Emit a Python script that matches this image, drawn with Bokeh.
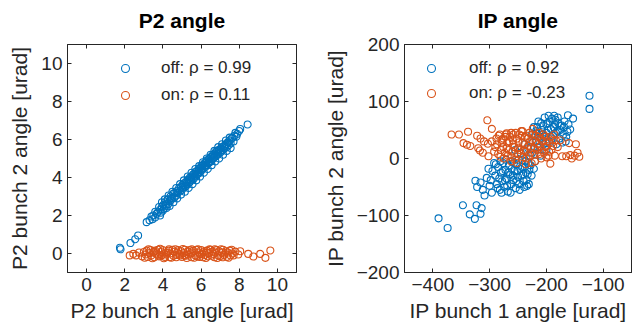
from bokeh.plotting import figure
from bokeh.layouts import row
from bokeh.models import Range1d, LinearAxis, FixedTicker, Legend
from bokeh.embed import file_html
from bokeh.resources import INLINE

# ---------------- data ----------------
p2_off_x = [1.75, 1.78, 2.3, 2.55, 2.7, 3.15, 3.3, 3.45, 3.5, 3.6, 3.68, 3.75, 3.85, 3.9, 3.95,
            4.02, 4.05, 4.12, 4.18, 4.25, 4.28, 4.35, 4.4, 4.42, 4.5, 4.55, 4.6, 4.65, 4.7, 4.75,
            4.8, 4.85, 4.9, 4.95, 5.0, 5.02, 5.08, 5.12, 5.15, 5.2, 5.22, 5.28, 5.3, 5.35, 5.4,
            5.42, 5.48, 5.5, 5.55, 5.58, 5.62, 5.65, 5.7, 5.72, 5.78, 5.8, 5.85, 5.88, 5.92, 5.95,
            6.0, 6.02, 6.08, 6.1, 6.15, 6.18, 6.22, 6.25, 6.3, 6.32, 6.38, 6.4, 6.45, 6.48, 6.52,
            6.55, 6.6, 6.62, 6.68, 6.7, 6.75, 6.78, 6.82, 6.85, 6.9, 6.92, 6.98, 7.0, 7.05, 7.1,
            7.15, 7.2, 7.25, 7.3, 7.35, 7.4, 7.45, 7.5, 7.55, 7.6, 7.65, 7.7, 7.75, 7.8, 7.85,
            7.9, 8.0, 8.05, 8.44,
            4.1, 4.2, 4.3, 4.35, 4.5, 4.55, 4.7, 4.75, 4.9, 4.95, 5.1, 5.15, 5.3, 5.35, 5.5,
            5.55, 5.7, 5.75, 5.9, 5.95, 6.1, 6.15, 6.3, 6.35, 6.5, 6.55, 6.7, 6.75, 6.9, 6.95,
            7.1, 7.15, 7.3, 7.35, 3.95, 4.0, 3.8, 3.85, 3.6, 3.4, 7.5, 7.55,
            4.15, 4.45, 4.75, 5.05, 5.25, 5.45, 5.65, 5.85, 6.05, 6.25, 6.45, 6.65, 6.85, 7.05,
            7.25, 7.45]
p2_off_y = [0.3, 0.22, 0.55, 0.75, 0.95, 1.65, 1.75, 1.8, 2.0, 1.9, 2.1, 2.2, 2.3, 2.15, 2.45,
            2.55, 2.35, 2.7, 2.5, 2.85, 2.6, 2.75, 3.0, 2.8, 2.9, 3.15, 2.95, 3.2, 3.05, 3.3,
            3.2, 3.45, 3.3, 3.5, 3.35, 3.6, 3.45, 3.7, 3.5, 3.75, 3.55, 3.85, 3.65, 3.9, 3.75,
            4.0, 3.85, 4.05, 3.9, 4.15, 3.95, 4.2, 4.05, 4.3, 4.15, 4.35, 4.2, 4.45, 4.25, 4.5,
            4.35, 4.6, 4.45, 4.65, 4.5, 4.75, 4.55, 4.8, 4.65, 4.9, 4.75, 4.95, 4.8, 5.05, 4.85,
            5.1, 4.95, 5.2, 5.05, 5.25, 5.1, 5.35, 5.15, 5.4, 5.25, 5.45, 5.3, 5.5, 5.35, 5.6,
            5.45, 5.65, 5.55, 5.75, 5.6, 5.85, 5.7, 5.95, 5.8, 6.05, 6.1, 5.9, 6.2, 6.35, 6.15,
            6.3, 6.45, 6.55, 6.79,
            2.85, 2.4, 3.05, 2.5, 3.25, 2.7, 3.45, 2.9, 3.65, 3.1, 3.85, 3.25, 4.05, 3.45, 4.25,
            3.65, 4.45, 3.85, 4.6, 4.05, 4.8, 4.25, 5.0, 4.45, 5.2, 4.65, 5.4, 4.85, 5.6, 5.0,
            5.75, 5.2, 5.95, 5.4, 2.7, 2.25, 2.45, 2.0, 2.2, 1.95, 6.1, 5.55,
            2.62, 2.92, 3.2, 3.5, 3.7, 3.88, 4.08, 4.28, 4.47, 4.66, 4.86, 5.05, 5.25, 5.44,
            5.63, 5.83]

p2_on_x = [2.26, 2.45, 2.6, 2.75, 2.9, 3.0, 3.1, 3.15, 3.2, 3.3, 3.35, 3.4, 3.5, 3.55, 3.6,
           3.7, 3.75, 3.8, 3.9, 3.95, 4.0, 4.1, 4.15, 4.2, 4.3, 4.35, 4.4, 4.5, 4.55, 4.6,
           4.7, 4.75, 4.8, 4.9, 4.95, 5.0, 5.1, 5.15, 5.2, 5.3, 5.35, 5.4, 5.5, 5.55, 5.6,
           5.7, 5.75, 5.8, 5.9, 5.95, 6.0, 6.1, 6.15, 6.2, 6.3, 6.35, 6.4, 6.5, 6.55, 6.6,
           6.7, 6.75, 6.8, 6.9, 6.95, 7.0, 7.1, 7.15, 7.2, 7.3, 7.35, 7.4, 7.5, 7.55, 7.65,
           7.8, 7.95, 8.05, 8.47, 8.74, 9.1, 9.37, 9.63,
           3.05, 3.25, 3.45, 3.65, 3.85, 4.05, 4.25, 4.45, 4.65, 4.85, 5.05, 5.25, 5.45, 5.65,
           5.85, 6.05, 6.25, 6.45, 6.65, 6.85, 7.05, 7.25, 7.45, 7.6, 3.52, 3.92, 4.32, 4.72,
           5.12, 5.52, 5.92, 6.32, 6.72, 7.12, 7.7]
p2_on_y = [-0.1, -0.02, -0.1, 0.05, -0.15, 0.08, -0.05, 0.15, -0.18, 0.02, 0.18, -0.1, 0.05, -0.2, 0.15,
           -0.05, 0.2, -0.15, 0.08, -0.08, 0.18, -0.18, 0.05, -0.05, 0.15, -0.2, 0.0, 0.2, -0.12, 0.1,
           -0.2, 0.05, 0.18, -0.1, 0.12, -0.18, 0.02, 0.2, -0.12, 0.1, -0.05, 0.18, -0.2, 0.05, 0.15,
           -0.1, 0.2, -0.15, 0.05, -0.05, 0.18, -0.2, 0.08, -0.08, 0.15, -0.15, 0.02, 0.2, -0.12, 0.1,
           -0.2, 0.05, 0.18, -0.1, 0.12, -0.15, 0.05, 0.2, -0.08, 0.12, -0.18, 0.05, 0.15, -0.1, 0.0,
           0.1, -0.05, 0.12, -0.02, -0.16, -0.02, -0.23, 0.16,
           -0.22, 0.22, -0.25, 0.0, 0.25, -0.25, 0.05, -0.22, 0.22, -0.02, 0.24, -0.24, 0.0, -0.22,
           0.22, -0.02, -0.24, 0.22, -0.02, -0.24, 0.22, 0.0, -0.22, 0.2, 0.1, -0.12, 0.22, -0.08,
           -0.1, 0.22, -0.18, 0.05, 0.22, -0.2, -0.1]

ip_off_x = [-390, -374, -347, -335, -326, -323, -314, -316, -325, -322, -316, -309, -305, -302,
            -312, -300, -296, -298, -124, -124, -153, -162, -158, -175, -168, -180,
            -290, -287, -285, -282, -280, -278, -276, -274, -272, -270, -268, -266, -264, -262,
            -260, -258, -256, -254, -252, -250, -248, -246, -244, -242, -240, -238, -236, -234,
            -232, -230, -225, -220, -215, -210, -205, -200, -218, -212,
            -226, -222, -218, -214, -210, -206, -203, -200, -198, -195, -192, -190, -188, -185,
            -182, -180, -177, -173, -170, -166, -163, -196, -208, -184,
            -245, -238, -232, -228, -255,
            -289, -286, -283, -281, -279, -277, -273, -271, -269, -267, -263, -261, -259, -257,
            -253, -251, -249, -247, -243, -241, -239, -237, -235, -233, -231, -228, -226, -222,
            -295, -292,
            -224, -220, -216, -212, -209, -204, -201, -197, -194, -191, -187, -183, -179, -176,
            -172, -169, -165, -161, -186, -200, -213, -207]
ip_off_y = [-105, -122, -82, -98, -106, -82, -87, -97, -39, -50, -42, -65, -34, -18,
            -55, -48, -60, -38, 110, 87, 70, 76, 51, 57, 65, 72,
            -30, -45, -15, -55, -25, -40, -8, -50, -20, -35, -58, -12, -28, -45,
            -5, -38, -22, -52, -10, -32, -45, -18, -30, -3, -40, -15, -25, -48,
            -8, -20, 10, -5, 20, 5, 25, 15, 30, 38,
            42, 55, 48, 65, 35, 58, 72, 45, 62, 30, 52, 70, 40, 60,
            25, 48, 35, 58, 42, 30, 47, 75, 50, 68,
            10, 25, 18, 5, 15,
            -10, -52, -35, -5, -60, -22, -38, -2, -48, -25, -60, -18, -30, -8,
            -40, -22, -2, -55, -15, -28, -50, -5, -38, -28, -45, -12, -30, -18,
            -22, -8,
            28, 40, 55, 20, 62, 38, 28, 50, 65, 35, 55, 45, 62, 50,
            28, 55, 38, 60, 75, 60, 45, 42]

ip_on_x = [-367, -354, -338, -346, -340, -334, -304, -316, -310, -317, -302, -303, -322, -296,
           -320, -312,
           -290, -288, -285, -282, -280, -278, -275, -272, -270, -268, -265, -262, -260, -258,
           -255, -252, -250, -248, -245, -242, -240, -238, -235, -232, -230, -228, -225, -222,
           -220, -218, -215, -212, -210, -208, -205, -202, -200, -198, -195, -192, -188, -185,
           -183, -186, -270, -244, -226, -262, -234,
           -193, -172, -165, -158, -150, -145, -142, -148, -160, -180, -175, -155,
           -287, -284, -281, -279, -276, -273, -271, -269, -266, -264, -261, -259, -256, -254,
           -251, -249, -247, -243, -241, -239, -236, -233, -231, -229, -227, -224, -221, -219,
           -216, -214, -211, -209, -206, -204, -201, -199, -196, -194, -191, -189, -252, -236,
           -276, -258, -242, -224, -212, -296, -292]
ip_on_y = [42, 42, 47, 27, 24, 22, 67, 35, 30, 14, 4, 26, 40, 52,
           18, 10,
           20, 35, 8, 42, 15, 28, 0, 38, 18, 5, 30, 45, 12, 25,
           -2, 35, 18, 42, 8, 28, 15, 38, 0, 22, 45, 10, 32, 18,
           -5, 40, 25, 8, 35, 15, 42, 20, 2, 30, 12, 38, 22, 5,
           32, 42, 44, 48, -8, -5, 40,
           -9, 4, 4, 6, 5, 10, 3, 25, 27, 20, 32, 0,
           25, 40, 3, 33, 20, 10, 42, 28, 15, 38, 2, 32, 20, 45,
           8, 28, 15, 40, 2, 25, 12, 35, 5, 28, 18, 42, 8, 30,
           15, 38, 22, 0, 30, 10, 38, 22, 5, 28, 15, 32, -8, -10,
           35, 42, 48, 52, 45, 30, 12]

p2_ticks = [0, 2, 4, 6, 8, 10]
ip_x_ticks = [-400, -300, -200, -100]
ip_y_ticks = [-200, -100, 0, 100, 200]

BLUE = "#0072BD"
ORANGE = "#D95319"
AX = "#262626"
FONT = "Liberation Sans"


def style_axis(ax, ticks, labels=True):
    ax.ticker = FixedTicker(ticks=ticks)
    ax.axis_line_color = AX
    ax.axis_line_width = 1
    ax.major_tick_line_color = AX
    ax.major_tick_in = 4
    ax.major_tick_out = 0
    ax.minor_tick_line_color = None
    ax.major_label_text_font = FONT
    ax.major_label_text_color = AX
    ax.axis_label_text_font = FONT
    ax.axis_label_text_color = AX
    ax.axis_label_text_font_style = "normal"
    ax.axis_label_text_font_size = "21px"
    if labels:
        ax.major_label_text_font_size = "19px"
        ax.major_label_standoff = 5
    else:
        ax.major_label_text_font_size = "1px"
        ax.major_label_text_color = None
        ax.major_label_standoff = 0


def make_fig(title, xr, yr, xt, yt, xlabel, ylabel, width, bl, br,
             xo, yo, xn, yn, lab_off, lab_on, leg_loc, leg_space, leg_standoff):
    p = figure(width=width, height=329, output_backend="svg", toolbar_location=None,
               x_range=Range1d(*xr), y_range=Range1d(*yr), title=None,
               min_border_left=bl, min_border_right=br, min_border_top=44,
               min_border_bottom=57)
    p.background_fill_color = "white"
    p.border_fill_color = "white"
    p.outline_line_color = AX
    p.outline_line_width = 1
    p.xgrid.visible = False
    p.ygrid.visible = False

    style_axis(p.xaxis[0], xt)
    style_axis(p.yaxis[0], yt)
    p.xaxis[0].axis_label = xlabel
    p.yaxis[0].axis_label = ylabel
    p.xaxis[0].axis_label_standoff = 5
    p.yaxis[0].axis_label_standoff = 7

    # top axis: inward ticks only, carries the bold panel title as its label
    top = LinearAxis()
    style_axis(top, xt, labels=False)
    top.axis_label = title
    top.axis_label_text_font_style = "bold"
    top.axis_label_text_color = "black"
    top.axis_label_standoff = 13
    right = LinearAxis()
    style_axis(right, yt, labels=False)
    p.add_layout(top, "above")
    p.add_layout(right, "right")

    r1 = p.scatter(xo, yo, marker="circle", size=7, fill_color=None,
                   line_color=BLUE, line_width=1.1)
    r2 = p.scatter(xn, yn, marker="circle", size=7, fill_color=None,
                   line_color=ORANGE, line_width=1.1)
    leg = Legend(items=[(lab_off, [r1]), (lab_on, [r2])], location=leg_loc)
    leg.border_line_color = None
    leg.background_fill_alpha = 0
    leg.padding = 0
    leg.margin = 0
    leg.spacing = leg_space
    leg.label_standoff = leg_standoff
    leg.glyph_width = 20
    leg.glyph_height = 20
    leg.label_height = 20
    leg.label_text_font = FONT
    leg.label_text_font_size = "17px"
    leg.label_text_color = AX
    p.add_layout(leg)
    return p


p1 = make_fig("P2 angle", (-1, 11), (-1, 11), p2_ticks, p2_ticks,
              "P2 bunch 1 angle [urad]", "P2 bunch 2 angle [urad]",
              320, 67, 24,
              p2_off_x, p2_off_y, p2_on_x, p2_on_y,
              "off: \u03c1 = 0.99", "on: \u03c1 = 0.11", (48, 167), 7, 26)
p2 = make_fig("IP angle", (-450, -50), (-200, 200), ip_x_ticks, ip_y_ticks,
              "IP bunch 1 angle [urad]", "IP bunch 2 angle [urad]",
              321, 83, 10,
              ip_off_x, ip_off_y, ip_on_x, ip_on_y,
              "off: \u03c1 = 0.92", "on: \u03c1 = -0.23", (17, 169), 5, 28)

layout = row(p1, p2)
open("out.html", "w").write(file_html(layout, INLINE))
